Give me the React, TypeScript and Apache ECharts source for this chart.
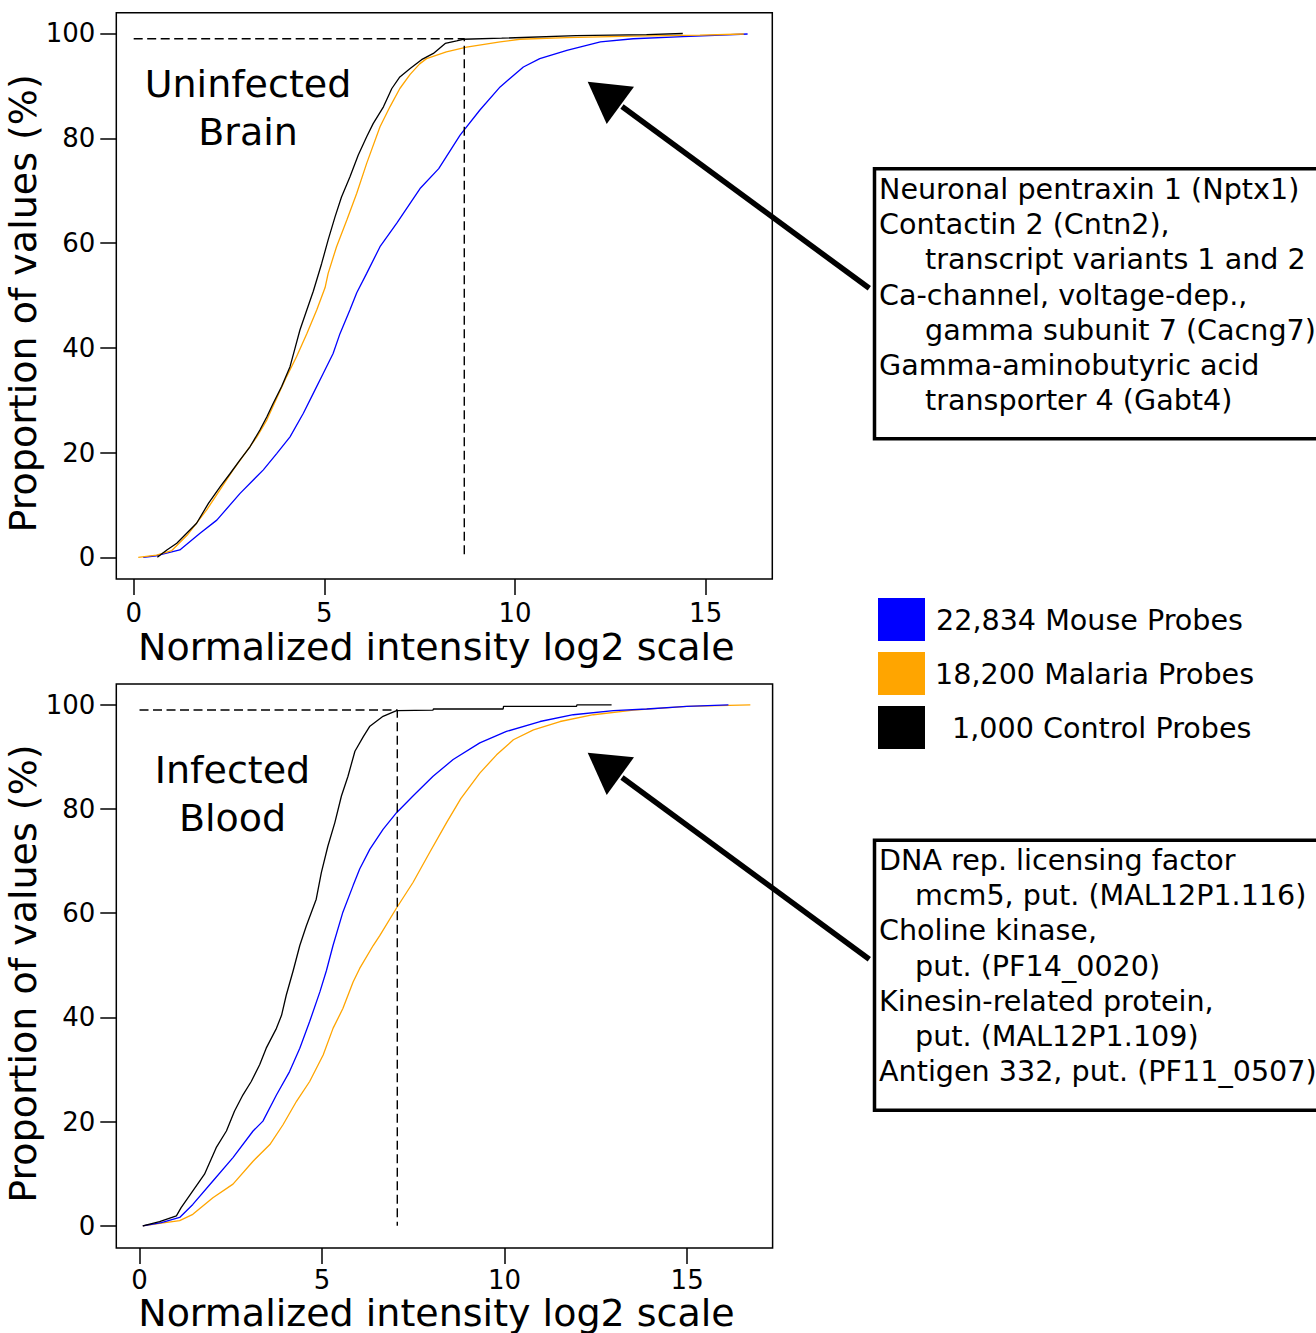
import React, { useEffect, useRef } from "react";
import * as echarts from "echarts";

const FONT = "DejaVu Sans";

const xTicks = [0, 5, 10, 15];
const yTicks = [0, 20, 40, 60, 80, 100];
const seriesNames = ["22,834 Mouse Probes", "18,200 Malaria Probes", "1,000 Control Probes"];
const seriesColors = ["#0000FF", "#FFA500", "#000000"];
const panelTitles = [["Uninfected", "Brain"], ["Infected", "Blood"]];
const xTitle = "Normalized intensity log2 scale";
const yTitle = "Proportion of values (%)";

const brainGenes = [
  "Neuronal pentraxin 1 (Nptx1)",
  "Contactin 2 (Cntn2),",
  "transcript variants 1 and 2",
  "Ca-channel, voltage-dep.,",
  "gamma subunit 7 (Cacng7)",
  "Gamma-aminobutyric acid",
  "transporter 4 (Gabt4)",
];
const brainIndent = [false, false, true, false, true, false, true];
const bloodGenes = [
  "DNA rep. licensing factor",
  "mcm5, put. (MAL12P1.116)",
  "Choline kinase,",
  "put. (PF14_0020)",
  "Kinesin-related protein,",
  "put. (MAL12P1.109)",
  "Antigen 332, put. (PF11_0507)",
];
const bloodIndent = [false, true, false, true, false, true, false];

// Uninfected brain (x: log2 intensity, y: cumulative %)
const brainMouse = [
  [0.25, 0], [0.6, 0.3], [1.21, 1.4], [1.74, 4.6], [2.18, 7.1], [2.79, 12.2], [3.4, 16.7],
  [3.75, 19.8], [4.1, 23.0], [4.45, 27.5], [4.71, 31.3], [4.97, 35.1], [5.23, 38.9], [5.41, 42.7],
  [5.67, 47.2], [5.85, 50.5], [6.11, 54.2], [6.46, 59.3], [6.9, 63.8], [7.51, 70.4], [8.0, 74.2],
  [8.56, 80.6], [9.08, 85.4], [9.61, 89.8], [10.22, 93.6], [10.65, 95.2], [11.36, 96.8],
  [12.24, 98.4], [13.1, 99.0], [14.4, 99.4], [16.1, 99.9],
];
const brainMalaria = [
  [0.12, 0], [0.6, 0.4], [1.0, 1.3], [1.4, 4.2], [1.91, 9.0], [2.6, 16.6], [3.23, 23.0],
  [3.49, 26.2], [4.01, 34.5], [4.27, 38.3], [4.54, 42.7], [4.8, 47.2], [5.02, 51.5], [5.1, 54.2],
  [5.32, 59.3], [5.59, 64.4], [5.85, 69.5], [6.11, 75.2], [6.46, 82.2], [6.72, 86.0], [6.98, 89.5],
  [7.25, 92.2], [7.5, 94.2], [7.68, 95.2], [8.2, 96.5], [8.73, 97.4], [9.61, 98.4], [10.13, 98.9],
  [11.36, 99.2], [13.1, 99.5], [14.85, 99.7], [16.0, 99.9],
];
const brainControl = [
  [0.62, 0], [0.87, 1.4], [1.13, 2.7], [1.39, 4.6], [1.65, 6.5], [1.96, 10.3], [2.27, 13.5],
  [2.53, 16.0], [2.79, 18.6], [3.05, 21.1], [3.31, 24.3], [3.49, 26.8], [3.66, 29.4], [3.88, 32.6],
  [4.1, 36.4], [4.23, 39.9], [4.36, 43.4], [4.54, 47.2], [4.71, 50.8], [4.93, 56.1], [5.1, 60.6],
  [5.28, 65.0], [5.45, 68.8], [5.67, 72.6], [5.89, 76.8], [6.11, 80.3], [6.28, 82.8], [6.55, 86.0],
  [6.77, 89.5], [6.98, 91.7], [7.25, 93.3], [7.55, 95.0], [7.86, 96.2], [8.17, 98.1], [8.47, 98.6],
  [8.64, 98.9], [9.65, 99.1], [11.6, 99.6], [13.45, 99.8], [14.4, 100],
];
const brainCutoff = [[0, 99], [8.67, 99], [8.67, 0]];

// Infected blood
const bloodMouse = [
  [0.09, 0], [0.6, 0.6], [1.1, 1.6], [1.46, 4.1], [2.01, 8.6], [2.56, 13.1], [3.11, 18.2],
  [3.38, 20.1], [3.75, 25.1], [4.11, 29.6], [4.39, 34.1], [4.66, 39.2], [4.94, 44.9], [5.12, 49.0],
  [5.3, 53.8], [5.57, 60.2], [5.85, 65.3], [6.03, 68.5], [6.31, 72.3], [6.67, 76.1], [7.04, 79.3],
  [7.49, 82.5], [8.04, 86.3], [8.59, 89.5], [9.32, 92.7], [10.05, 94.9], [10.97, 96.8],
  [11.88, 98.1], [12.98, 98.9], [13.89, 99.2], [14.99, 99.7], [16.13, 100],
];
const bloodMalaria = [
  [0.09, 0], [0.6, 0.5], [1.1, 1.0], [1.46, 2.2], [2.01, 5.4], [2.56, 8.0], [3.11, 12.4],
  [3.57, 15.6], [3.93, 19.4], [4.3, 23.9], [4.66, 27.7], [5.03, 32.8], [5.3, 37.9], [5.57, 41.7],
  [5.85, 46.8], [6.03, 49.4], [6.4, 53.8], [6.58, 55.7], [7.04, 61.0], [7.49, 65.9], [7.95, 71.7],
  [8.41, 77.4], [8.8, 82.0], [9.32, 86.9], [9.78, 90.4], [10.24, 93.3], [10.79, 95.2],
  [11.52, 96.8], [12.43, 98.1], [13.53, 99.0], [14.99, 99.7], [16.73, 100],
];
const bloodControl = [
  [0.09, 0], [0.55, 0.8], [1.01, 1.9], [1.14, 3.5], [1.46, 6.7], [1.78, 9.9], [2.1, 15.0],
  [2.38, 18.2], [2.6, 22.0], [2.83, 25.1], [3.06, 27.7], [3.29, 30.9], [3.47, 34.1], [3.75, 37.9],
  [3.89, 40.4], [4.02, 44.3], [4.21, 49.0], [4.39, 53.8], [4.57, 57.6], [4.84, 62.7], [4.98, 67.8],
  [5.16, 72.9], [5.35, 77.4], [5.53, 82.5], [5.71, 86.3], [5.9, 91.1], [6.13, 93.9], [6.31, 95.9],
  [6.67, 97.8], [7.04, 98.9], [8.04, 99.0], [8.05, 99.2], [9.96, 99.2], [9.97, 99.7],
  [11.97, 99.7], [11.98, 100], [12.93, 100],
];
const bloodCutoff = [[0, 99], [7.06, 99], [7.06, 0]];

function makeXAxis(gridIndex: number, min: number, max: number, labelMargin: number, nameGap: number) {
  return {
    type: "value",
    gridIndex,
    min,
    max,
    name: xTitle,
    nameLocation: "middle",
    nameGap,
    nameTextStyle: { fontFamily: FONT, fontSize: 38, lineHeight: 30, color: "#000", padding: [0, 16, 0, 0] },
    axisLine: { show: false, onZero: false },
    axisTick: { show: true, inside: false, length: 16, lineStyle: { color: "#000", width: 1.5 }, customValues: xTicks },
    axisLabel: { fontFamily: FONT, fontSize: 26, lineHeight: 20, color: "#000", margin: labelMargin, customValues: xTicks },
    splitLine: { show: false },
  };
}

function makeYAxis(gridIndex: number, min: number, max: number) {
  return {
    type: "value",
    gridIndex,
    min,
    max,
    name: yTitle,
    nameLocation: "middle",
    nameGap: 60,
    nameTextStyle: { fontFamily: FONT, fontSize: 38, color: "#000", padding: [0, 15, 0, 0] },
    axisLine: { show: false, onZero: false },
    axisTick: { show: true, inside: false, length: 16, lineStyle: { color: "#000", width: 1.5 }, customValues: yTicks },
    axisLabel: { fontFamily: FONT, fontSize: 26, color: "#000", margin: 21, customValues: yTicks },
    splitLine: { show: false },
  };
}

function curve(nameIdx: number, data: number[][], axis: number) {
  return {
    type: "line",
    name: seriesNames[nameIdx],
    xAxisIndex: axis,
    yAxisIndex: axis,
    data,
    showSymbol: false,
    symbol: "none",
    lineStyle: { color: seriesColors[nameIdx], width: 1.3 },
    itemStyle: { color: seriesColors[nameIdx] },
  };
}

function cutoff(data: number[][], axis: number) {
  return {
    type: "line",
    name: "cutoff",
    xAxisIndex: axis,
    yAxisIndex: axis,
    data,
    showSymbol: false,
    symbol: "none",
    lineStyle: { color: "#000", width: 1.4, type: [9, 4.5] },
  };
}

function textEl(text: string, x: number, y: number, size: number, align = "left") {
  return {
    type: "text",
    x,
    y,
    style: { text, fontFamily: FONT, fontSize: size, fill: "#000", align, verticalAlign: "middle" },
  };
}

function geneBox(lines: string[], indent: boolean[], top: number, bottom: number, firstY: number, step: number, indentX: number) {
  const els: any[] = [
    { type: "rect", shape: { x: 874.5, y: top, width: 470, height: bottom - top }, style: { fill: "none", stroke: "#000", lineWidth: 3.5 } },
  ];
  lines.forEach((l, i) => els.push(textEl(l, indent[i] ? indentX : 879, firstY + i * step, 28.6)));
  return els;
}

function arrow(tail: number[], base: number[], tip: number[], c1: number[], c2: number[]) {
  return [
    { type: "line", shape: { x1: tail[0], y1: tail[1], x2: base[0], y2: base[1] }, style: { stroke: "#000", lineWidth: 5.5 } },
    { type: "polygon", shape: { points: [tip, c1, c2] }, style: { fill: "#000" } },
  ];
}

export default function App() {
  const ref = useRef<HTMLDivElement>(null);
  useEffect(() => {
    if (!ref.current) return;
    const chart = echarts.init(ref.current, undefined, { renderer: "svg" });
    const graphic: any[] = [
      textEl(panelTitles[0][0], 248, 84, 38, "center"),
      textEl(panelTitles[0][1], 248, 132, 38, "center"),
      textEl(panelTitles[1][0], 232.5, 770, 38, "center"),
      textEl(panelTitles[1][1], 232.5, 818, 38, "center"),
      { type: "rect", shape: { x: 878, y: 598, width: 47, height: 43 }, style: { fill: seriesColors[0] } },
      { type: "rect", shape: { x: 878, y: 652, width: 47, height: 43 }, style: { fill: seriesColors[1] } },
      { type: "rect", shape: { x: 878, y: 706, width: 47, height: 43 }, style: { fill: seriesColors[2] } },
      textEl(seriesNames[0], 936, 620, 28.6),
      textEl(seriesNames[1], 935, 674, 28.6),
      textEl(seriesNames[2], 952, 727.5, 28.6),
      ...geneBox(brainGenes, brainIndent, 168.7, 438.7, 189.2, 35.13, 925),
      ...geneBox(bloodGenes, bloodIndent, 840.3, 1110.3, 860, 35.2, 915),
      ...arrow([869.3, 288.3], [622, 106.5], [587.7, 81.7], [634, 86.7], [606.7, 124]),
      ...arrow([869.3, 959.3], [622, 777.5], [587.7, 752.7], [634, 757.3], [606.7, 795]),
    ];
    chart.setOption({
      animation: false,
      backgroundColor: "#fff",
      textStyle: { fontFamily: FONT },
      grid: [
        { left: 116.3, top: 12.7, width: 656, height: 566.3, show: true, borderColor: "#000", borderWidth: 1.5, backgroundColor: "transparent" },
        { left: 116.3, top: 684, width: 656.3, height: 566.7, show: true, borderColor: "#000", borderWidth: 1.5, backgroundColor: "transparent" },
      ],
      xAxis: [makeXAxis(0, -0.456, 16.748, 24, 53), makeXAxis(1, -0.636, 17.34, 22, 46.5)],
      yAxis: [makeYAxis(0, -4.14, 103.97), makeYAxis(1, -4.28, 104.0)],
      series: [
        curve(0, brainMouse, 0),
        curve(1, brainMalaria, 0),
        curve(2, brainControl, 0),
        cutoff(brainCutoff, 0),
        curve(1, bloodMalaria, 1),
        curve(0, bloodMouse, 1),
        curve(2, bloodControl, 1),
        cutoff(bloodCutoff, 1),
      ],
      graphic,
    });
    return () => chart.dispose();
  }, []);
  return <div ref={ref} style={{ position: "absolute", left: 0, top: 0, width: 1316, height: 1333 }} />;
}
